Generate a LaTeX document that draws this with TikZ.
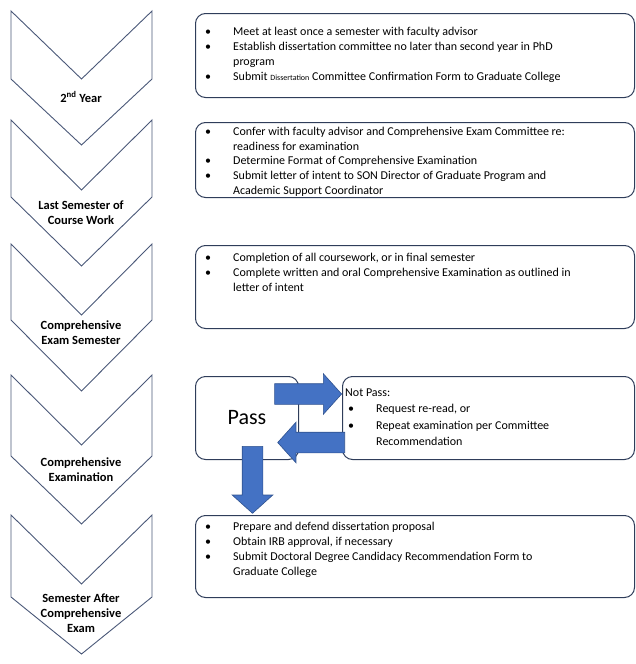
\documentclass[tikz,border=0pt]{standalone}
\usepackage{fontspec}
\setmainfont{Carlito}
\usetikzlibrary{positioning,shapes.arrows}

\newcommand{\bul}{\makebox[28pt][l]{\textbullet}}
\newcommand{\ind}{\hspace*{28pt}}

\begin{document}
\begin{tikzpicture}[x=1pt, y=-1pt,
  chevron/.style={draw=chevline, line width=0.9pt, line join=miter},
  steplabel/.style={font=\fontsize{12.5}{15}\selectfont\bfseries, align=center, inner sep=0pt},
  stepbox/.style={draw=boxline, line width=1pt, rounded corners=10pt, minimum width=439pt, anchor=north west, inner sep=0pt},
  listtext/.style={font=\fontsize{12}{15.2}\selectfont, align=left, inner sep=0pt},
  blockarrow/.style={single arrow, fill=arrowblue, draw=arrowline, line width=0.6pt, single arrow head extend=10pt, single arrow tip angle=96, inner xsep=0pt, inner ysep=10pt, minimum height=67pt}
]

  % Define custom colors
  \definecolor{chevline}{HTML}{4A5878}
  \definecolor{boxline}{HTML}{2F3D5A}
  \definecolor{arrowblue}{HTML}{4472C4}
  \definecolor{arrowline}{HTML}{2F528F}

  \useasboundingbox (0,0) rectangle (635,664);

  % Chevrons (top / side end / notch depth / tip depth)
  \foreach \t/\s/\a/\b in {11/79/68/66, 120/197/70/69, 244/320/71/71, 375/456/70/68, 515/597/69/57} {
    \draw[chevron] (11,\t) -- (81.5,\t+\a) -- (152,\t) -- (152,\s) -- (81.5,\s+\b) -- (11,\s) -- cycle;
  }
  % Chevron labels
  \node[steplabel] (y2) at (81,97) {2\textsuperscript{nd} Year};
  \node[steplabel] (lsc) at (81,212.5) {Last Semester of\\Course Work};
  \node[steplabel] (ces) at (81,332.5) {Comprehensive\\Exam Semester};
  \node[steplabel] (ce) at (81,469.5) {Comprehensive\\Examination};
  \node[steplabel] (sac) at (81,613.5) {Semester After\\Comprehensive\\Exam};

  % Boxes
  \node[stepbox, minimum height=84pt] (b1) at (195,13) {};
  \node[stepbox, minimum height=75pt] (b2) at (195,122) {};
  \node[stepbox, minimum height=83pt] (b3) at (195,245) {};
  \node[stepbox, minimum width=103pt, minimum height=83pt, font=\fontsize{22}{26}\selectfont] (pass) at (195,376) {Pass};
  \node[stepbox, minimum width=292pt, minimum height=83pt] (np) at (342,376) {};
  \node[stepbox, minimum height=82pt] (b5) at (195,515) {};

  % Box texts
  \node[listtext, below right=13.7pt and 10pt of b1.north west] (t1) {\bul Meet at least once a semester with faculty advisor\\
    \bul Establish dissertation committee no later than second year in PhD\\
    \ind program\\
    \bul Submit {\fontsize{8}{8}\selectfont Dissertation} Committee Confirmation Form to Graduate College};
  \node[listtext, font=\fontsize{12}{14.6}\selectfont, below right=5.2pt and 10pt of b2.north west] (t2) {\bul Confer with faculty advisor and Comprehensive Exam Committee re:\\
    \ind readiness for examination\\
    \bul Determine Format of Comprehensive Examination\\
    \bul Submit letter of intent to SON Director of Graduate Program and\\
    \ind Academic Support Coordinator};
  \node[listtext, below right=7.7pt and 10pt of b3.north west] (t3) {\bul Completion of all coursework, or in final semester\\
    \bul Complete written and oral Comprehensive Examination as outlined in\\
    \ind letter of intent};
  \node[listtext, font=\fontsize{12}{16.3}\selectfont, below right=12.7pt and 3pt of np.north west] (tnp) {Not Pass:\\
    \hspace*{3pt}\bul Request re-read, or\\
    \hspace*{3pt}\bul Repeat examination per Committee\\
    \hspace*{31pt}Recommendation};
  \node[listtext, below right=6.7pt and 10pt of b5.north west] (t5) {\bul Prepare and defend dissertation proposal\\
    \bul Obtain IRB approval, if necessary\\
    \bul Submit Doctoral Degree Candidacy Recommendation Form to\\
    \ind Graduate College};

  % Block arrows
  \node[blockarrow, anchor=tip] (tonp) at ([yshift=24pt]np.west) {};
  \node[blockarrow, rotate=180, anchor=tail] (back) at ([xshift=3pt, yshift=-24.5pt]np.west) {};
  \node[blockarrow, rotate=-90, anchor=tail] (down) at ([xshift=5.5pt, yshift=14pt]pass.south) {};

\end{tikzpicture}
\end{document}
